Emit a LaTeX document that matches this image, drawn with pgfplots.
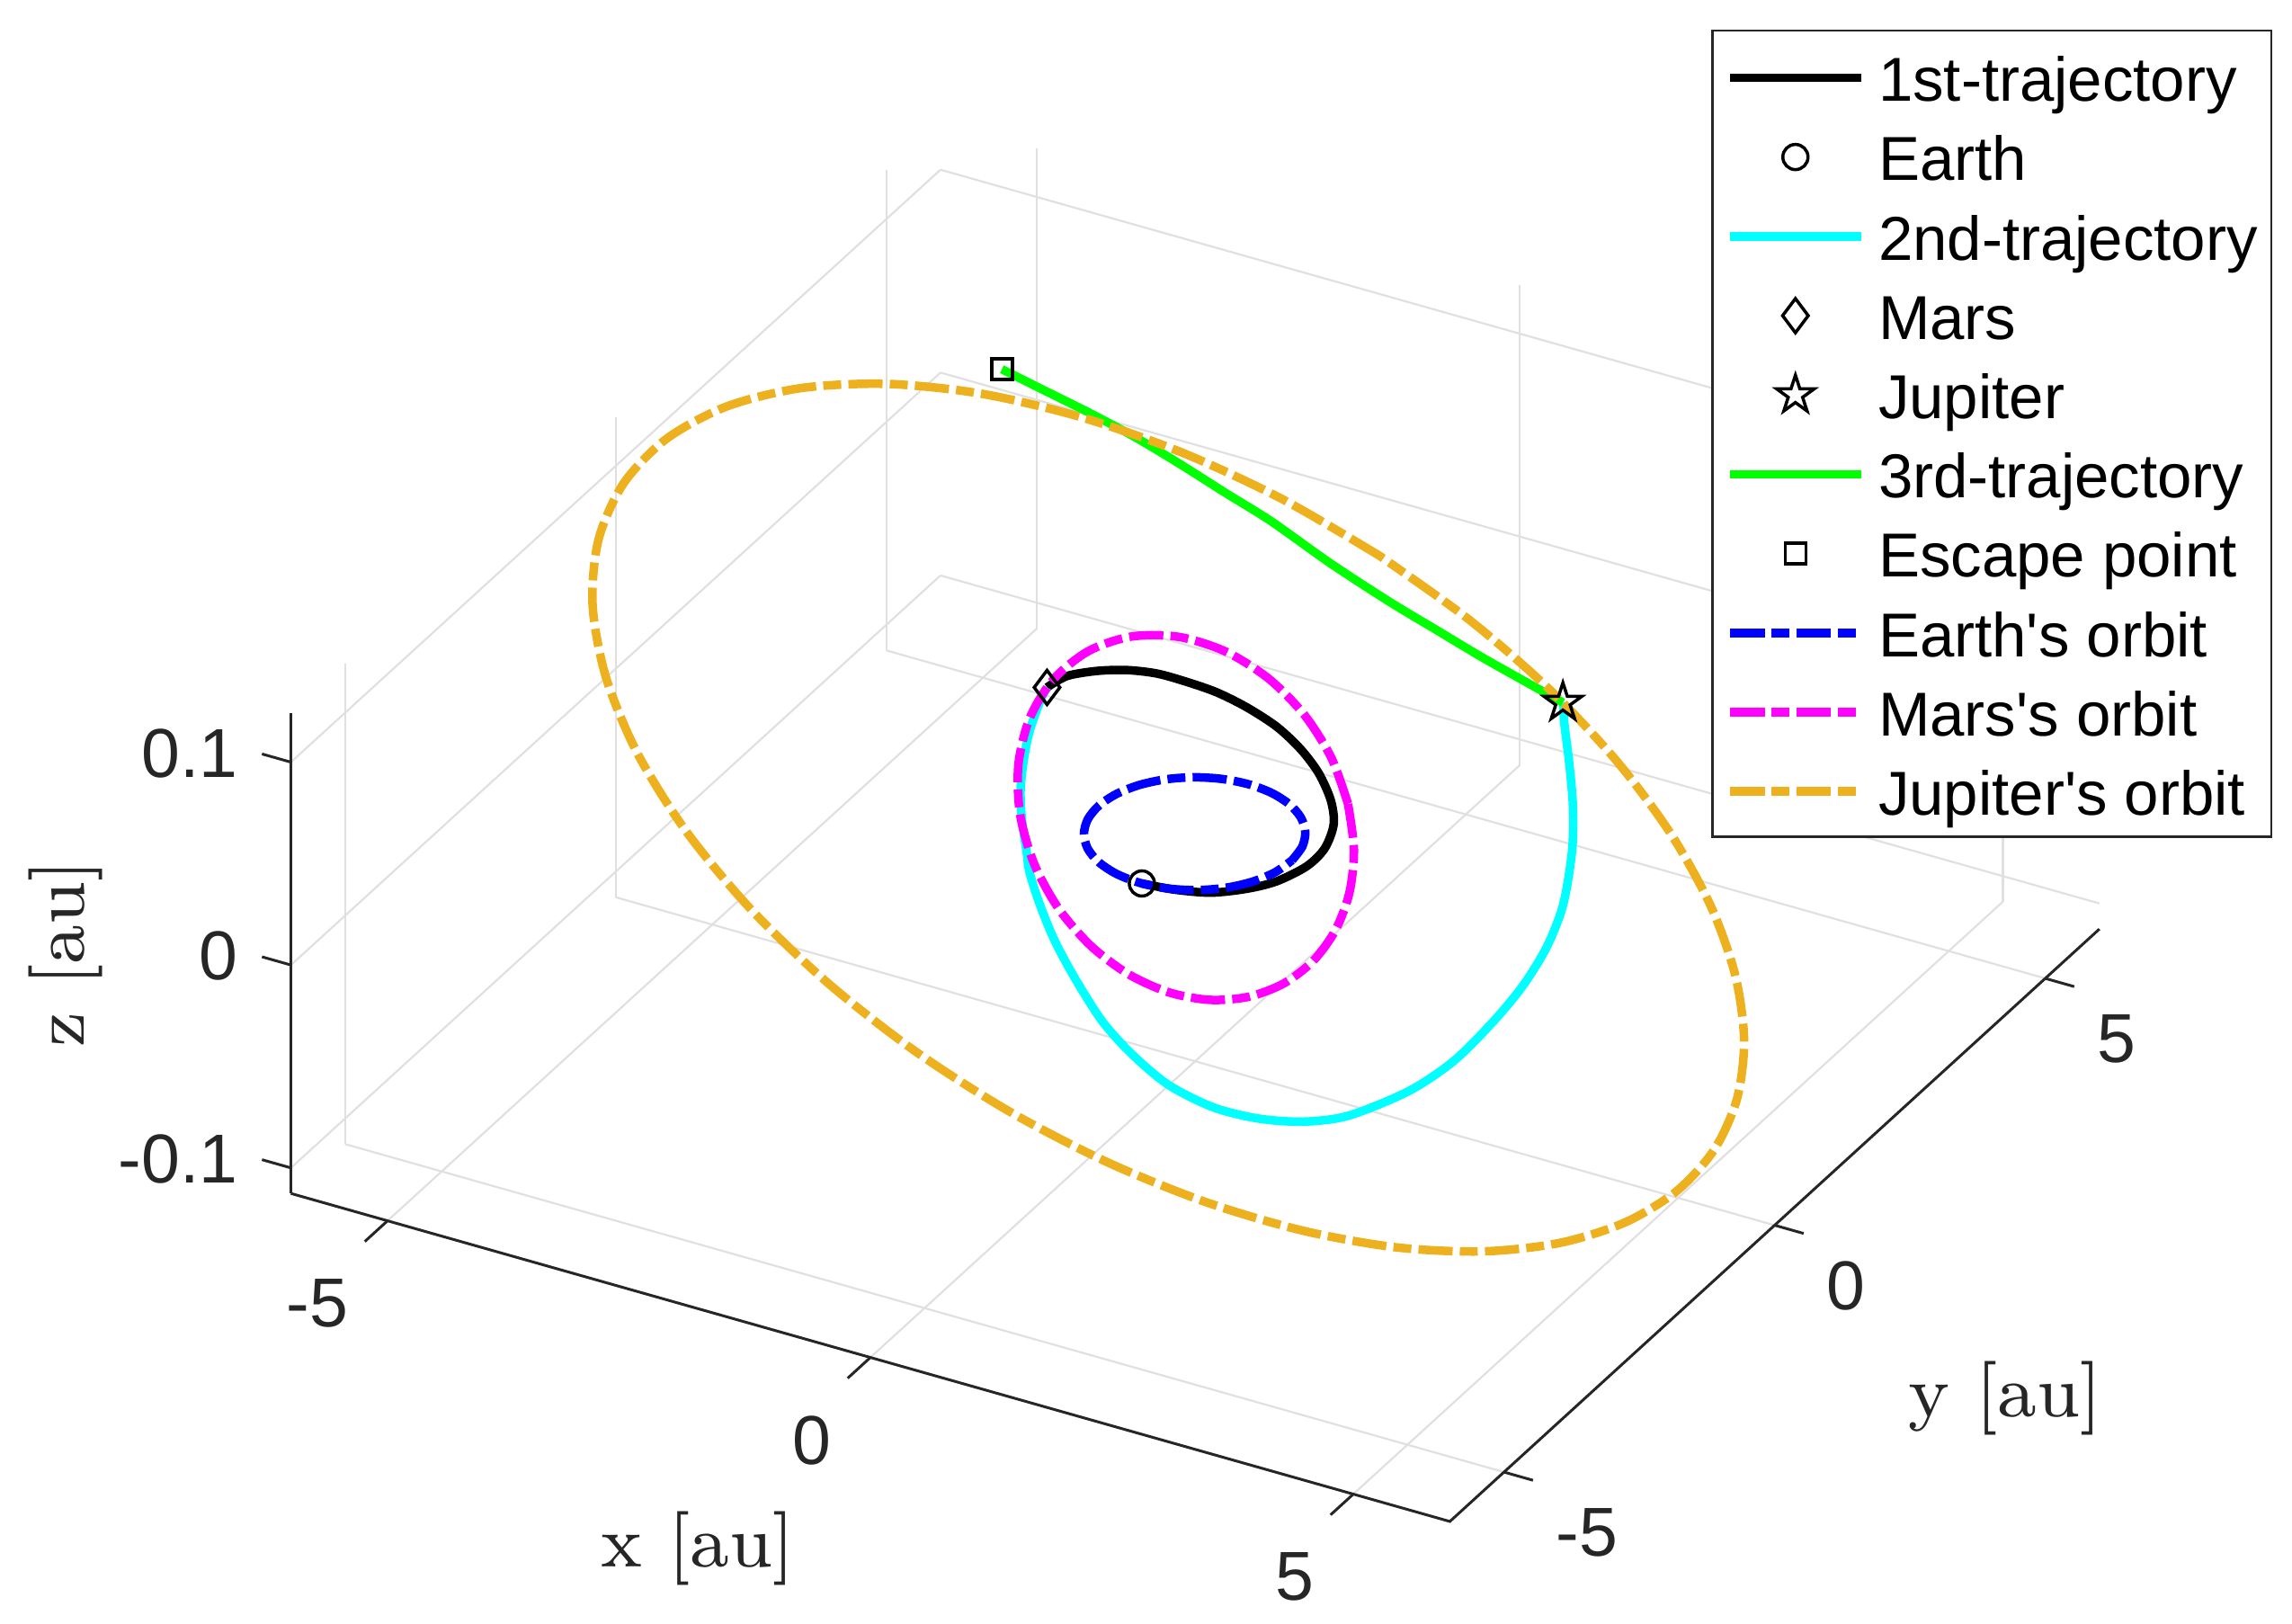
\documentclass[border=0pt]{standalone}
\usepackage{fontspec}
\setsansfont{Liberation Sans}
\usepackage{pgfplots}
\pgfplotsset{compat=1.18}
\definecolor{jorange}{rgb}{0.929,0.694,0.125}
\definecolor{axc}{rgb}{0.15,0.15,0.15}
\definecolor{mcyan}{rgb}{0,1,1}
\definecolor{mmag}{rgb}{1,0,1}
\definecolor{mgreen}{rgb}{0,1,0}
\definecolor{mblue}{rgb}{0,0,1}
\pgfdeclareplotmark{pentagram}{%
 \pgfpathmoveto{\pgfpointpolar{90}{\pgfplotmarksize}}%
 \pgfpathlineto{\pgfpointpolar{126}{0.382\pgfplotmarksize}}%
 \pgfpathlineto{\pgfpointpolar{162}{\pgfplotmarksize}}%
 \pgfpathlineto{\pgfpointpolar{198}{0.382\pgfplotmarksize}}%
 \pgfpathlineto{\pgfpointpolar{234}{\pgfplotmarksize}}%
 \pgfpathlineto{\pgfpointpolar{270}{0.382\pgfplotmarksize}}%
 \pgfpathlineto{\pgfpointpolar{306}{\pgfplotmarksize}}%
 \pgfpathlineto{\pgfpointpolar{342}{0.382\pgfplotmarksize}}%
 \pgfpathlineto{\pgfpointpolar{18}{\pgfplotmarksize}}%
 \pgfpathlineto{\pgfpointpolar{54}{0.382\pgfplotmarksize}}%
 \pgfpathclose\pgfusepathqstroke}
\newcommand{\tickfont}{\sffamily\fontsize{7.7}{9}\selectfont}
\newcommand{\labfont}{\rmfamily\fontsize{8.2}{10}\selectfont}
\begin{document}
\begin{tikzpicture}
\begin{axis}[
 x={(10.74pt,-3.04pt)}, y={(6.02pt,5.49pt)}, z={(0pt,225.6pt)},
 xmin=-6, xmax=6, ymin=-6, ymax=6, zmin=-0.11261, zmax=0.12406,
 xtick={-5,0,5}, ytick={-5,0,5}, ztick={-0.1,0,0.1},
 xticklabels={}, yticklabels={}, zticklabels={},
 grid=major, major grid style={black!12, line width=0.22pt},
 axis line style={draw=none},
 major tick length=0pt,
 clip=false,
 legend style={at={(axis cs:11.153,0,0.54617)}, anchor=north east,
   draw=axc, line width=0.25pt, fill=white,
   font=\sffamily\fontsize{6.9}{8}\selectfont,
   inner xsep=1.5pt, inner ysep=1.7pt, row sep=1.98pt, column sep=1.5pt,
   nodes={inner sep=0pt, text height=6.14pt, text depth=0.7pt}},
 legend cell align=left,
 legend image code/.code={\draw[mark repeat=2,mark phase=2,#1] plot coordinates {(0pt,-0.1pt) (7.25pt,-0.1pt) (14.5pt,-0.1pt)};},
]
% 1st trajectory
\addplot3[black, line width=0.95pt, smooth] coordinates {
(0.0177,-1.0161,0) (0.335,-0.971,0.0001) (0.652,-0.872,0.0005) (0.913,-0.673,0.0011)
(1.100,-0.4545,0.0020) (1.226,-0.126,0.0031) (1.236,0.189,0.0044) (1.128,0.5465,0.0061)
(0.929,0.848,0.0079) (0.638,1.146,0.0100) (0.329,1.364,0.0124) (-0.010,1.526,0.0150)
(-0.365,1.607,0.0178) (-0.678,1.610,0.0209) (-0.947,1.537,0.0242) (-1.193,1.423,0.0278)
(-1.394,1.226,0.0316) (-1.551,0.953,0.0357) (-1.668,0.608,0.0400) (-1.6464,0.2005,0.0446)};
\addlegendentry{1st-trajectory}
\addplot3[only marks, mark=o, mark size=1.4pt, black, mark options={line width=0.35pt}] coordinates {(0.0177,-1.0161,0)};
\addlegendentry{Earth}
% 2nd trajectory
\addplot3[mcyan, line width=0.95pt, smooth] coordinates {
(-1.6464,0.2005,0.0446) (-1.5935,-0.0225,0.0438) (-1.4587,-0.4574,0.0415) (-1.3009,-0.8502,0.0384)
(-1.1285,-1.2127,0.0347) (-0.9336,-1.5320,0.0304) (-0.7235,-1.8239,0.0255) (-0.5777,-2.0292,0.0221)
(-0.3190,-2.2963,0.0159) (-0.0198,-2.5543,0.0084) (0.3284,-2.7868,-0.0004) (0.7252,-2.9964,-0.0107)
(1.0800,-3.0763,-0.0202) (1.4468,-3.0663,-0.0303) (1.8112,-2.8858,-0.0408) (2.1042,-2.5779,-0.0498)
(2.3465,-2.1797,-0.0577) (2.5321,-1.6802,-0.0644) (2.6777,-0.8321,-0.0710)
(2.7143,-0.0668,-0.0743) (2.6647,0.7410,-0.0755) (2.5889,1.4294,-0.0755) (2.4644,2.0950,-0.0742)
(2.2843,2.7203,-0.0711) (1.9918,3.4083,-0.0652) (1.7152,3.9185,-0.0592) (1.4148,4.3829,-0.0524)
(1.1675,4.7410,-0.0467) (1.0166,4.9802,-0.0433)};
\addlegendentry{2nd-trajectory}
\addplot3[only marks, mark=diamond, mark size=1.9pt, black, mark options={line width=0.35pt}] coordinates {(-1.6464,0.2005,0.0446)};
\addlegendentry{Mars}
\addplot3[only marks, mark=pentagram, mark size=2.2pt, black, mark options={line width=0.35pt}] coordinates {(1.0166,4.9802,-0.0433)};
\addlegendentry{Jupiter}
% 3rd trajectory
\addplot3[mgreen, line width=0.95pt, smooth] coordinates {
(1.0166,4.9802,-0.0433) (0.681,4.890,-0.0354) (0.2731,4.787,-0.0259) (-0.1453,4.703,-0.0162)
(-0.5637,4.619,-0.0065) (-1.1421,4.5425,0.0068) (-1.7458,4.5115,0.0204) (-2.1703,4.4384,0.0302)
(-2.5986,4.3719,0.0401) (-3.0170,4.2878,0.0498) (-3.4151,4.1675,0.0592) (-3.8027,4.0284,0.0684)
(-4.181,3.890,0.0775)};
\addlegendentry{3rd-trajectory}
\addplot3[only marks, mark=square, mark size=1.15pt, black, mark options={line width=0.35pt}] coordinates {(-4.181,3.890,0.0775)};
\addlegendentry{Escape point}
% Earth orbit
\addplot3[mblue, line width=0.95pt, smooth, dash pattern=on 3.8pt off 0.8pt on 2.0pt off 0.8pt] coordinates {
(1.0035,0,0) (0.9651,0.2586,0) (0.86156,0.49742,0) (0.70069,0.70069,0) (0.49382,0.85532,0)
(0.25498,0.95161,0) (0,0.9837,0) (-0.25450,0.94980,0) (-0.49200,0.85217,0) (-0.69704,0.69704,0)
(-0.85604,0.49424,0) (-0.95815,0.25674,0) (-0.99599,0,0) (-0.96624,-0.25890,0) (-0.87004,-0.50232,0)
(-0.71324,-0.71324,0) (-0.50605,-0.87650,0) (-0.26262,-0.98013,0) (0,-1.01627,0) (0.26314,-0.98206,0)
(0.50797,-0.87984,0) (0.71706,-0.71706,0) (0.87575,-0.50562,0) (0.97329,-0.26079,0) (1.0035,0,0)};
\addlegendentry{Earth\textquotesingle s orbit}
% Mars orbit
\addplot3[mmag, line width=0.95pt, smooth, dash pattern=on 3.8pt off 0.8pt on 2.0pt off 0.8pt] coordinates {
(0.9544,1.1198,0) (0.6473,1.3606,0.01259) (0.2798,1.5185,0.02492) (-0.1256,1.5758,0.03608)
(-0.5404,1.5210,0.04512) (-0.9308,1.3516,0.05117) (-1.2626,1.0761,0.05355) (-1.5044,0.7157,0.05194)
(-1.6337,0.3011,0.04644) (-1.6402,-0.1308,0.03756) (-1.5267,-0.5424,0.02615) (-1.3078,-0.9006,0.01327)
(-1.0065,-1.1808,0) (-0.6505,-1.3672,-0.01265) (-0.2679,-1.4537,-0.02386) (0.1149,-1.4414,-0.03300)
(0.4751,-1.3373,-0.03967) (0.7935,-1.1522,-0.04362) (1.0550,-0.8992,-0.04475) (1.2474,-0.5935,-0.04307)
(1.3617,-0.2510,-0.03871) (1.3914,0.1109,-0.03186) (1.3329,0.4735,-0.02283) (1.1861,0.8168,-0.01203)
(0.9544,1.1198,0)};
\addlegendentry{Mars\textquotesingle s orbit}
% Jupiter orbit
\addplot3[jorange, line width=0.95pt, smooth, dash pattern=on 3.8pt off 0.8pt on 2.0pt off 0.8pt] coordinates {
(-0.9396,5.0875,0) (-1.8242,4.8881,0.02061) (-2.6674,4.5350,0.04093) (-3.4425,4.0346,0.06032)
(-4.1198,3.4027,0.07812) (-4.6794,2.6517,0.09371) (-5.0969,1.8083,0.10653) (-5.3561,0.8998,0.11608)
(-5.4466,-0.0441,0.12201) (-5.3636,-0.9905,0.12406) (-5.1092,-1.9067,0.12215) (-4.6925,-2.7601,0.11636)
(-4.1281,-3.5222,0.10690) (-3.4402,-4.1651,0.09412) (-2.6479,-4.6726,0.07852) (-1.7837,-5.0275,0.06067)
(-0.8771,-5.2211,0.04119) (0.0425,-5.2512,0.02074) (0.9457,-5.1208,0) (1.8054,-4.8378,-0.02040)
(2.5965,-4.4144,-0.03984) (3.2985,-3.8658,-0.05780) (3.8907,-3.2135,-0.07377) (4.3631,-2.4725,-0.08738)
(4.7024,-1.6683,-0.09828) (4.9013,-0.8234,-0.10622) (4.9568,0.0402,-0.11104) (4.8686,0.8991,-0.11261)
(4.6392,1.7313,-0.11092) (4.2748,2.5144,-0.10600) (3.7837,3.2284,-0.09797) (3.1808,3.8511,-0.08703)
(2.4758,4.3689,-0.07342) (1.6899,4.7630,-0.05748) (0.8433,5.0202,-0.03960) (-0.0416,5.1306,-0.02027)
(-0.9396,5.0875,0)};
\addlegendentry{Jupiter\textquotesingle s orbit}
% axis lines and ticks
\draw[axc, line width=0.3pt] (axis cs:-6,-6,-0.11261) -- (axis cs:6,-6,-0.11261) -- (axis cs:6,6,-0.11261);
\draw[axc, line width=0.3pt] (axis cs:-6,-6,-0.11261) -- (axis cs:-6,-6,0.12406);
\draw[axc, line width=0.3pt] (axis cs:-5,-6,-0.11261) -- (axis cs:-5,-6.42,-0.11261);
\draw[axc, line width=0.3pt] (axis cs:0,-6,-0.11261) -- (axis cs:0,-6.42,-0.11261);
\draw[axc, line width=0.3pt] (axis cs:5,-6,-0.11261) -- (axis cs:5,-6.42,-0.11261);
\draw[axc, line width=0.3pt] (axis cs:6,-5,-0.11261) -- (axis cs:6.3,-5,-0.11261);
\draw[axc, line width=0.3pt] (axis cs:6,0,-0.11261) -- (axis cs:6.3,0,-0.11261);
\draw[axc, line width=0.3pt] (axis cs:6,5,-0.11261) -- (axis cs:6.3,5,-0.11261);
\draw[axc, line width=0.3pt] (axis cs:-6,-6,-0.1) -- (axis cs:-6.3,-6,-0.1);
\draw[axc, line width=0.3pt] (axis cs:-6,-6,0) -- (axis cs:-6.3,-6,0);
\draw[axc, line width=0.3pt] (axis cs:-6,-6,0.1) -- (axis cs:-6.3,-6,0.1);
% tick labels
\node[anchor=east, inner sep=0pt, xshift=-4.2pt, yshift=-9.2pt, font=\tickfont, text=axc] at (axis cs:-5,-6,-0.11261) {-5};
\node[anchor=east, inner sep=0pt, xshift=-4.2pt, yshift=-9.2pt, font=\tickfont, text=axc] at (axis cs:0,-6,-0.11261) {0};
\node[anchor=east, inner sep=0pt, xshift=-4.2pt, yshift=-9.2pt, font=\tickfont, text=axc] at (axis cs:5,-6,-0.11261) {5};
\node[anchor=west, inner sep=0pt, xshift=5.6pt, yshift=-6.7pt, font=\tickfont, text=axc] at (axis cs:6,-5,-0.11261) {-5};
\node[anchor=west, inner sep=0pt, xshift=5.6pt, yshift=-6.7pt, font=\tickfont, text=axc] at (axis cs:6,0,-0.11261) {0};
\node[anchor=west, inner sep=0pt, xshift=5.6pt, yshift=-6.7pt, font=\tickfont, text=axc] at (axis cs:6,5,-0.11261) {5};
\node[anchor=east, inner sep=0pt, xshift=-5.7pt, yshift=1.0pt, font=\tickfont, text=axc] at (axis cs:-6,-6,-0.1) {-0.1};
\node[anchor=east, inner sep=0pt, xshift=-5.7pt, yshift=1.0pt, font=\tickfont, text=axc] at (axis cs:-6,-6,0) {0};
\node[anchor=east, inner sep=0pt, xshift=-5.7pt, yshift=1.0pt, font=\tickfont, text=axc] at (axis cs:-6,-6,0.1) {0.1};
\coordinate (O) at (axis cs:0,0,0);
\end{axis}
\node[rotate=90, font=\labfont, text=axc] at ([xshift=-125.62pt,yshift=-13.39pt]O) {z [au]};
\node[font=\labfont, text=axc] at ([xshift=-55.28pt,yshift=-79.56pt]O) {x [au]};
\node[font=\labfont, text=axc] at ([xshift=90.13pt,yshift=-62.84pt]O) {y [au]};
\pgfresetboundingbox
\path[use as bounding box] ([xshift=-132.92pt,yshift=-87.89pt]O) rectangle ([xshift=121.98pt,yshift=92.61pt]O);
\end{tikzpicture}
\end{document}
